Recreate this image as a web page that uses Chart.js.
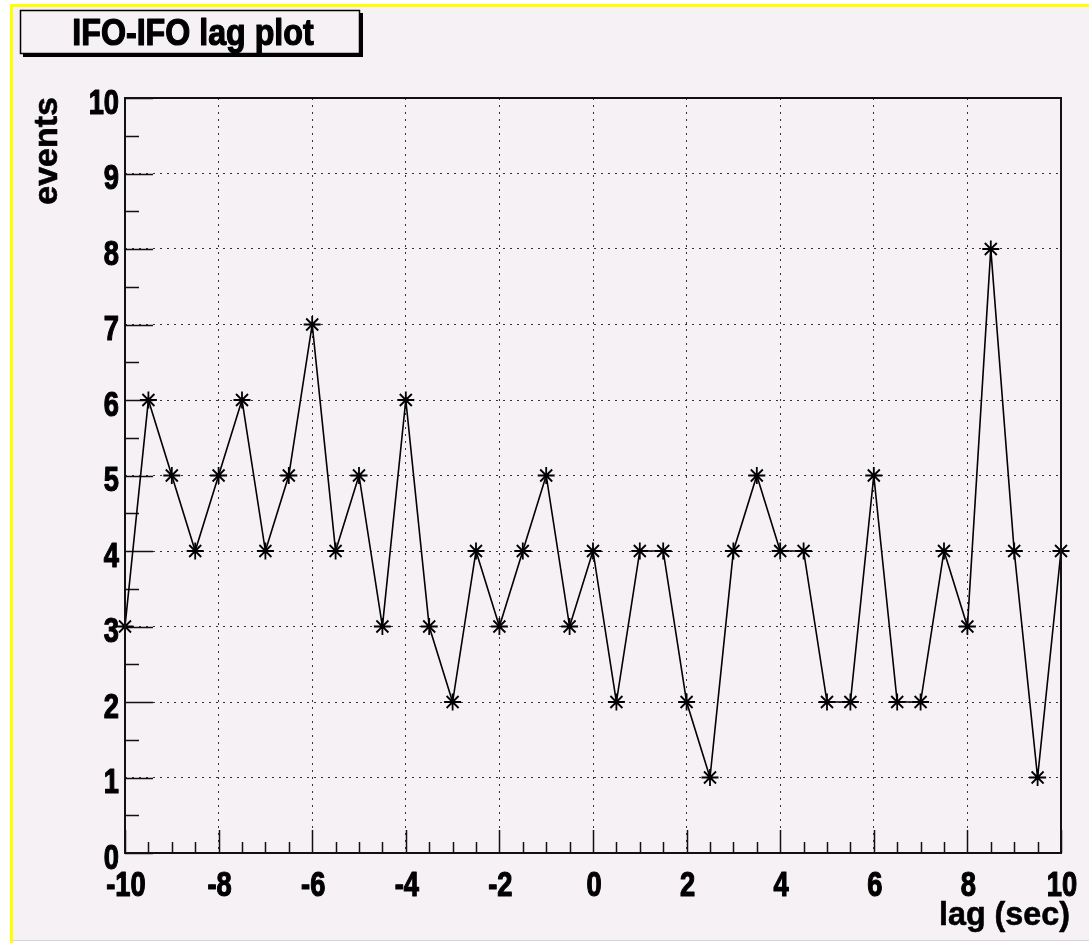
<!DOCTYPE html>
<html>
<head>
<meta charset="utf-8">
<title>IFO-IFO lag plot</title>
<script src="https://cdn.jsdelivr.net/npm/chart.js@4/dist/chart.umd.min.js"></script>
<style>
  html, body { margin: 0; padding: 0; background: #ffffff; }
  #wrap { position: relative; width: 1089px; height: 943px; }
  canvas { display: block; }
</style>
</head>
<body>
<div id="wrap"><canvas id="lag" width="1089" height="943"></canvas></div>
<script>
// Lag values (seconds) and number of coincident events at each lag
const lags = [-10, -9.5, -9, -8.5, -8, -7.5, -7, -6.5, -6, -5.5, -5, -4.5, -4, -3.5, -3, -2.5, -2, -1.5, -1, -0.5,
              0, 0.5, 1, 1.5, 2, 2.5, 3, 3.5, 4, 4.5, 5, 5.5, 6, 6.5, 7, 7.5, 8, 8.5, 9, 9.5, 10];
const events = [3, 6, 5, 4, 5, 6, 4, 5, 7, 4, 5, 3, 6, 3, 2, 4, 3, 4, 5, 3,
                4, 2, 4, 4, 2, 1, 4, 5, 4, 4, 2, 2, 5, 2, 2, 4, 3, 8, 4, 1, 4];

const titleText = 'IFO-IFO lag plot';
const xTitle = 'lag (sec)';
const yTitle = 'events';
const xRange = [-10, 10];
const yRange = [0, 10];

const BG = '#f5f1f5';
const SANS = '"Liberation Sans", Arial, sans-serif';

// Draw heavy text squeezed horizontally to mimic a condensed bold face
function condensedText(c, text, x, y, size, squeeze, align, weight) {
  c.save();
  c.font = 'bold ' + size + 'px ' + SANS;
  c.textBaseline = 'alphabetic';
  c.textAlign = 'left';
  const w = c.measureText(text).width * squeeze;
  let x0 = x;
  if (align === 'center') x0 = x - w / 2;
  else if (align === 'right') x0 = x - w;
  c.translate(x0, y);
  c.scale(squeeze, 1);
  c.fillStyle = '#000000';
  c.fillText(text, 0, 0);
  if (weight) {
    c.strokeStyle = '#000000';
    c.lineWidth = weight;
    c.lineJoin = 'round';
    c.strokeText(text, 0, 0);
  }
  c.restore();
}

// Pad background, yellow pad edge, title box, axis titles, tick labels and frame
const padDecor = {
  id: 'padDecor',
  beforeDraw(chart) {
    const c = chart.ctx;
    c.save();
    c.fillStyle = '#ffffff';
    c.fillRect(0, 0, chart.width, chart.height);
    c.fillStyle = BG;
    c.fillRect(10, 4, chart.width - 10, chart.height - 6);
    c.fillStyle = '#ffff00';
    c.fillRect(10, 4, chart.width - 10, 3);
    c.fillRect(10, 4, 3, chart.height - 4);
    c.fillStyle = '#d8d4d8';
    c.fillRect(13, chart.height - 3, chart.width - 13, 1);
    c.restore();
  },
  beforeDatasetsDraw(chart) {
    // inward tick marks, major and half-step minor
    const c = chart.ctx;
    const a = chart.chartArea;
    const xs = chart.scales.x, ys = chart.scales.y;
    c.save();
    c.strokeStyle = '#111111';
    c.lineWidth = 1.5;
    c.beginPath();
    for (let v = yRange[0]; v <= yRange[1] + 1e-9; v += 0.5) {
      const y = Math.round(ys.getPixelForValue(v)) + 0.5;
      const len = Number.isInteger(v) ? 28 : 14;
      c.moveTo(a.left, y);
      c.lineTo(a.left + len, y);
    }
    for (let v = xRange[0]; v <= xRange[1] + 1e-9; v += 0.5) {
      const x = Math.round(xs.getPixelForValue(v)) + 0.5;
      const len = (Math.abs(v % 2) < 1e-9) ? 23 : 11;
      c.moveTo(x, a.bottom);
      c.lineTo(x, a.bottom - len);
    }
    c.stroke();
    c.restore();
  },
  afterDraw(chart) {
    const c = chart.ctx;
    const a = chart.chartArea;
    const xs = chart.scales.x, ys = chart.scales.y;

    // frame
    c.save();
    c.strokeStyle = '#111111';
    c.lineWidth = 2;
    c.strokeRect(a.left, a.top, a.right - a.left, a.bottom - a.top);
    c.restore();

    c.save();
    // tick labels
    ys.ticks.forEach(t => {
      condensedText(c, String(t.value), a.left - 6, ys.getPixelForValue(t.value) + 15.5, 35, 0.78, 'right', 1.2);
    });
    xs.ticks.forEach(t => {
      condensedText(c, String(t.value), xs.getPixelForValue(t.value) + 1, a.bottom + 43, 35, 0.78, 'center', 1.2);
    });

    // title box with drop shadow
    c.fillStyle = '#000000';
    c.fillRect(23, 13, 340, 44);
    c.fillStyle = BG;
    c.fillRect(20, 10, 340, 44);
    c.strokeStyle = '#000000';
    c.lineWidth = 1.5;
    c.strokeRect(20.5, 10.5, 339, 43);
    condensedText(c, titleText, 193, 45, 37, 0.87, 'center', 1.2);

    // axis titles
    condensedText(c, xTitle, 1070, 925, 34, 0.95, 'right', 0.6);
    c.translate(57, 97);
    c.rotate(-Math.PI / 2);
    condensedText(c, yTitle, 0, 0, 34, 1, 'right', 0.6);
    c.restore();
  }
};

const points = lags.map((x, i) => ({ x: x, y: events[i] }));

new Chart(document.getElementById('lag'), {
  type: 'line',
  data: {
    datasets: [{
      data: points,
      borderColor: '#000000',
      borderWidth: 1.6,
      tension: 0,
      fill: false,
      pointStyle: 'star',
      pointRadius: 8.5,
      pointBorderWidth: 1.8,
      pointBorderColor: '#000000',
      pointBackgroundColor: '#000000',
      clip: false
    }]
  },
  options: {
    responsive: false,
    animation: false,
    devicePixelRatio: 1,
    layout: { padding: { left: 0, right: 28, top: 98, bottom: 0 } },
    plugins: { legend: { display: false }, tooltip: { enabled: false }, title: { display: false } },
    scales: {
      x: {
        type: 'linear',
        min: xRange[0],
        max: xRange[1],
        afterFit(s) { s.height = 90; },
        ticks: { stepSize: 2, display: false, autoSkip: false },
        grid: { color: '#333333', lineWidth: 1, drawTicks: false },
        border: { display: false, dash: [2, 5] }
      },
      y: {
        type: 'linear',
        min: yRange[0],
        max: yRange[1],
        afterFit(s) { s.width = 125; },
        ticks: { stepSize: 1, display: false, autoSkip: false },
        grid: { color: '#333333', lineWidth: 1, drawTicks: false },
        border: { display: false, dash: [2, 5] }
      }
    }
  },
  plugins: [padDecor]
});
</script>
</body>
</html>
